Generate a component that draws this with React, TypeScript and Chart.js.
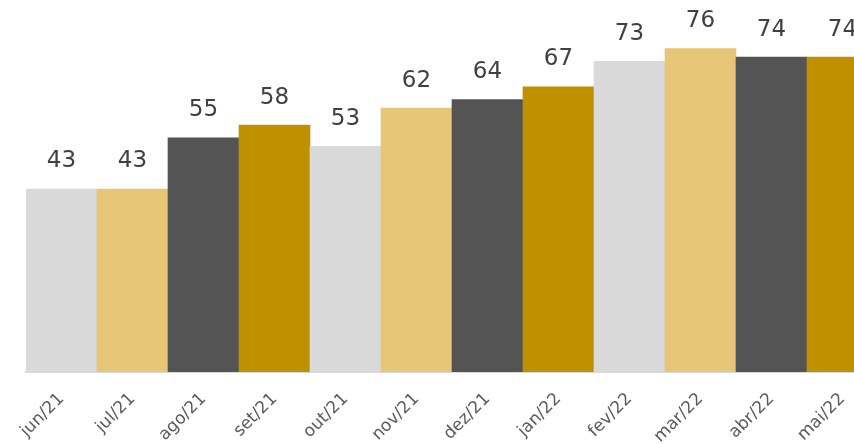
import React, { useEffect, useRef } from "react";
import { Chart, registerables } from "chart.js";

Chart.register(...registerables);

const categories = ["jun/21", "jul/21", "ago/21", "set/21", "out/21", "nov/21", "dez/21", "jan/22", "fev/22", "mar/22", "abr/22", "mai/22"];
const values = [43, 43, 55, 58, 53, 62, 64, 67, 73, 76, 74, 74];
const palette = ["#D9D9D9", "#E8C677", "#545454", "#BF9000"];

const labelPlugin = {
  id: "barLabels",
  afterDatasetsDraw(chart: any) {
    const ctx = chart.ctx;
    const meta = chart.getDatasetMeta(0);
    ctx.save();
    ctx.fillStyle = "#404040";
    ctx.font = "23px 'DejaVu Sans'";
    ctx.textAlign = "center";
    ctx.textBaseline = "bottom";
    meta.data.forEach((bar: any, i: number) => {
      ctx.fillText(String(values[i]), bar.x, bar.y - 16);
    });
    ctx.restore();
  },
};

export default function App() {
  const ref = useRef<HTMLCanvasElement>(null);
  useEffect(() => {
    if (!ref.current) return;
    const chart = new Chart(ref.current, {
      type: "bar",
      data: {
        labels: categories,
        datasets: [
          {
            data: values,
            backgroundColor: values.map((_, i) => palette[i % 4]),
            categoryPercentage: 1,
            barPercentage: 1,
            borderWidth: 0,
          },
        ],
      },
      options: {
        animation: false,
        responsive: false,
        maintainAspectRatio: false,
        layout: { padding: { left: 26, right: 2, top: 0, bottom: 0 } },
        plugins: { legend: { display: false }, tooltip: { enabled: false } },
        scales: {
          x: {
            grid: { display: false, drawTicks: false },
            border: { display: true, color: "#D9D9D9", width: 2 },
            ticks: {
              color: "#595959",
              font: { family: "'DejaVu Sans'", size: 17 },
              maxRotation: 45,
              minRotation: 45,
              padding: 17,
            },
            afterFit(scale: any) {
              scale.height = 72;
            },
          },
          y: {
            display: false,
            min: 0,
            max: 87.4,
          },
        },
      },
      plugins: [labelPlugin],
    });
    return () => chart.destroy();
  }, []);
  return (
    <div style={{ position: "fixed", left: 0, top: 0, width: 854, height: 444, overflow: "hidden", background: "#fff" }}>
      <canvas ref={ref} width={880} height={444} style={{ display: "block" }} />
    </div>
  );
}
